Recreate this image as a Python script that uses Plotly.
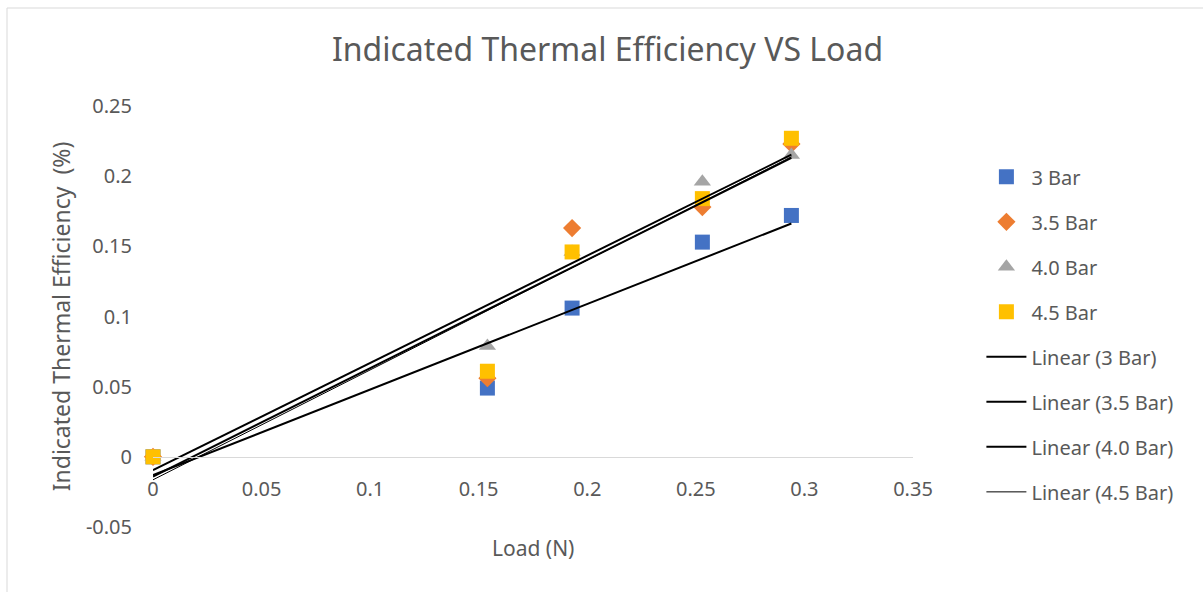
import numpy as np
import plotly.graph_objects as go

# Load (N) values shared by every pressure series
load = [0.0, 0.154, 0.193, 0.253, 0.294]

eff_3_0 = [0.0, 0.049, 0.106, 0.153, 0.172]
eff_3_5 = [0.0, 0.056, 0.163, 0.178, 0.223]
eff_4_0 = [0.0, 0.079, 0.146, 0.196, 0.215]
eff_4_5 = [0.0, 0.061, 0.146, 0.184, 0.227]

series_names = ["3 Bar", "3.5 Bar", "4.0 Bar", "4.5 Bar"]
series_values = [eff_3_0, eff_3_5, eff_4_0, eff_4_5]
series_colors = ["#4472C4", "#ED7D31", "#A5A5A5", "#FFC000"]
series_symbols = ["square", "diamond", "triangle-up", "square"]
trend_widths = [2, 2, 2, 1]

x_ticks = [0, 0.05, 0.1, 0.15, 0.2, 0.25, 0.3, 0.35]
y_ticks = [-0.05, 0, 0.05, 0.1, 0.15, 0.2, 0.25]

FONT = "Noto Sans"
GREY = "#595959"

fig = go.Figure()

for i, (name, vals, col, sym) in enumerate(zip(series_names, series_values, series_colors, series_symbols)):
    fig.add_trace(go.Scatter(
        x=load, y=vals, mode="markers", name=name,
        legendgroup=f"g{i}", cliponaxis=False,
        marker=dict(symbol=sym, color=col, size=15 if sym != "diamond" else 14,
                    line=dict(width=0)),
    ))

# Least-squares trend line for each series, drawn across the data range
for i, (name, vals, w) in enumerate(zip(series_names, series_values, trend_widths)):
    slope, intercept = np.polyfit(load, vals, 1)
    xs = [min(load), max(load)]
    ys = [slope * x + intercept for x in xs]
    fig.add_trace(go.Scatter(
        x=xs, y=ys, mode="lines", name=f"Linear ({name})",
        legendgroup=f"t{i}", cliponaxis=False,
        line=dict(color="black", width=w),
    ))

fig.update_layout(
    width=1203, height=592,
    margin=dict(l=153, r=290, t=106, b=65),
    paper_bgcolor="white", plot_bgcolor="white",
    font=dict(family=FONT, color=GREY, size=20),
    title=dict(text="Indicated Thermal Efficiency VS Load", x=0.505, xanchor="center",
               xref="container", y=1 - 50 / 592, yanchor="middle",
               font=dict(family=FONT, size=32, color=GREY)),
    showlegend=True,
    legend=dict(x=1.09, xanchor="left", y=0.878, yanchor="top",
                font=dict(family=FONT, size=20, color=GREY),
                tracegroupgap=16, itemwidth=40, bgcolor="rgba(0,0,0,0)"),
    xaxis=dict(range=[0, 0.35], tickvals=x_ticks, ticktext=[f"{v:g}" for v in x_ticks],
               anchor="free", position=1 / 6, showline=True, linecolor="#D9D9D9",
               linewidth=1, showgrid=False, zeroline=False, ticks="",
               ticklabelstandoff=14,
               tickfont=dict(size=20, color=GREY)),
    yaxis=dict(range=[-0.05, 0.25], tickvals=y_ticks, ticktext=[f"{v:g}" for v in y_ticks],
               showline=False, showgrid=False, zeroline=False, ticks="",
               ticklabelstandoff=20,
               tickfont=dict(size=20, color=GREY),
               title=dict(text="Indicated Thermal Efficiency  (%)",
                          font=dict(size=23, color=GREY), standoff=8)),
    annotations=[dict(text="Load (N)", xref="paper", yref="paper",
                      x=(533 - 153) / 760, y=(527 - 548) / 421,
                      xanchor="center", yanchor="middle", showarrow=False,
                      font=dict(size=21, color=GREY, family=FONT))],
    shapes=[dict(type="rect", xref="paper", yref="paper",
                 x0=(7 - 153) / 760, x1=(1250 - 153) / 760,
                 y0=(527 - 650) / 421, y1=(527 - 8) / 421,
                 line=dict(color="#D9D9D9", width=1), fillcolor="rgba(0,0,0,0)", layer="below")],
)

fig.write_html("out.html")
